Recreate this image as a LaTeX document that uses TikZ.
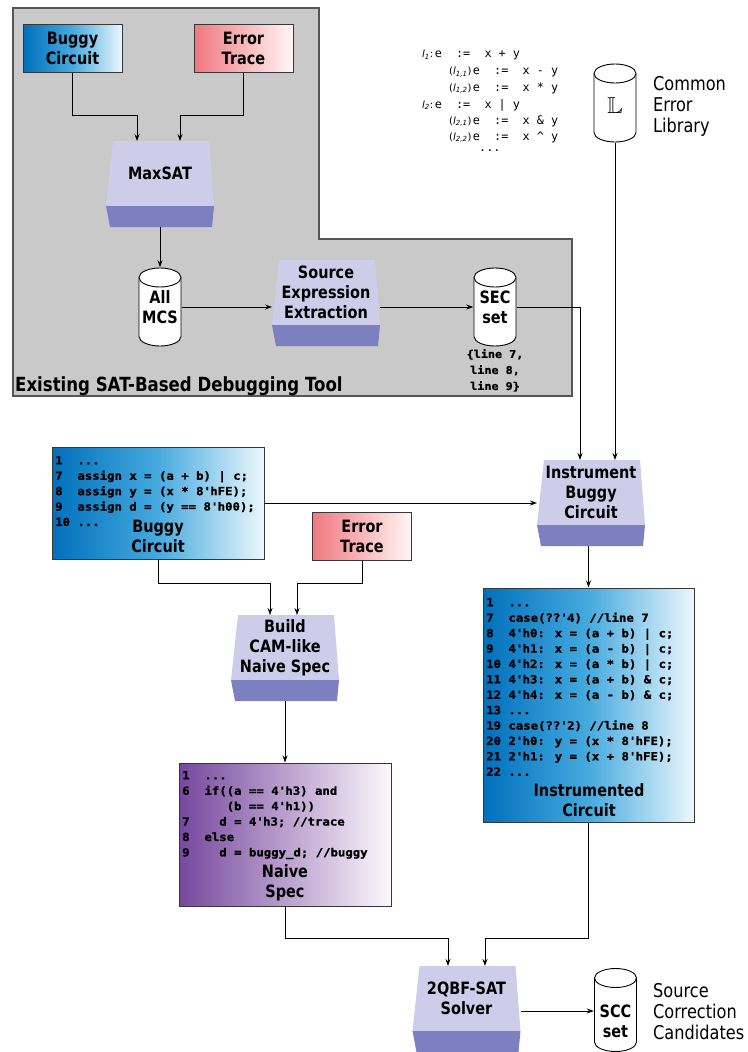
\documentclass[tikz,border=0pt]{standalone}
\usepackage{fontspec}
\usepackage{amssymb}
\setmainfont{DejaVu Sans}
\newfontfamily\lblfont[FakeStretch=0.85]{DejaVu Sans}
\newfontfamily\codefont[FakeStretch=1.10, BoldFeatures={FakeBold=1.2}]{DejaVu Sans Mono}
\newfontfamily\formfont{DejaVu Sans Mono}
\usetikzlibrary{arrows.meta}

\definecolor{toolgray}{RGB}{200,201,200}
\definecolor{toolline}{RGB}{85,85,85}
\definecolor{proctop}{RGB}{205,205,233}
\definecolor{procband}{RGB}{124,128,192}
\definecolor{boxline}{RGB}{55,55,55}
\definecolor{blueL}{RGB}{0,112,188}
\definecolor{blueM}{RGB}{70,170,222}
\definecolor{blueR}{RGB}{236,247,253}
\definecolor{redL}{RGB}{240,120,128}
\definecolor{redR}{RGB}{255,246,246}
\definecolor{purL}{RGB}{118,72,158}
\definecolor{purR}{RGB}{252,248,252}

\newcommand\sq{\textquotesingle}
\newcommand\lsub[1]{{\itshape l}\textsubscript{\itshape #1}}
% tag in front of a library rule
\newcommand\ruletag[1]{{\rmfamily\fontsize{10}{11}\selectfont #1}\kern1.5pt}

\tikzset{
  conn/.style={draw=black, line width=0.9pt},
  arr/.style={conn, -{Stealth[length=7pt,width=5pt]}},
  lbl/.style={font=\lblfont\bfseries\fontsize{17}{20}\selectfont, align=center, inner sep=0pt, text=black},
  plaintext/.style={font=\lblfont\fontsize{19}{21}\selectfont, align=left, inner sep=0pt},
  code/.style={font=\codefont\bfseries\fontsize{11.2}{15.4}\selectfont, align=left, inner sep=0pt, text=black},
  form/.style={font=\formfont\fontsize{11.8}{13}\selectfont, inner sep=0pt, anchor=west},
  gradbox/.style={lbl, draw=boxline, line width=1pt, minimum width=99pt, minimum height=48pt},
  codebox/.style={draw=boxline, line width=1pt, inner sep=0pt},
  bluegrad/.style={left color=blueL, right color=blueR, middle color=blueM},
  redgrad/.style={left color=redL, right color=redR},
  purgrad/.style={left color=purL, right color=purR},
  proc/.style={minimum width=108pt, minimum height=86pt, inner sep=0pt, outer sep=0pt,
    path picture={
      \fill[proctop] ([xshift=7pt]path picture bounding box.north west)
        -- ([xshift=-5pt]path picture bounding box.north east)
        -- ([yshift=21pt]path picture bounding box.south east)
        -- ([yshift=21pt]path picture bounding box.south west) -- cycle;
      \fill[procband] ([yshift=21pt]path picture bounding box.south west)
        -- ([yshift=21pt]path picture bounding box.south east)
        -- ([xshift=-2pt]path picture bounding box.south east)
        -- ([xshift=4pt]path picture bounding box.south west) -- cycle;
    }},
  cyl/.style={lbl, minimum width=43pt, minimum height=79pt, inner sep=0pt,
    path picture={
      \draw[line width=0.9pt, fill=white]
        ([shift={(0.5pt,-10pt)}]path picture bounding box.north west)
        -- ([shift={(0.5pt,10pt)}]path picture bounding box.south west)
        arc[start angle=180, end angle=360, x radius=21pt, y radius=9.5pt]
        -- ([shift={(-0.5pt,-10pt)}]path picture bounding box.north east)
        arc[start angle=0, end angle=180, x radius=21pt, y radius=9.5pt] -- cycle;
      \draw[line width=0.9pt]
        ([shift={(0.5pt,-10pt)}]path picture bounding box.north west)
        arc[start angle=180, end angle=360, x radius=21pt, y radius=9.5pt];
    }},
}

\begin{document}
\begin{tikzpicture}[x=1pt, y=-1pt]
\useasboundingbox (0,0) rectangle (747,1052);

% existing debugging tool region
\filldraw[fill=toolgray, draw=toolline, line width=1.2pt]
  (13,8) -- (319,8) -- (319,239) -- (572,239) -- (572,396) -- (13,396) -- cycle;
\node[lbl, font=\lblfont\bfseries\fontsize{19.5}{22}\selectfont, anchor=base west] (tool-t) at (15,391) {Existing SAT-Based Debugging Tool};

\node[gradbox, bluegrad] (bug1) at (72.5,48) {Buggy\\Circuit};
\node[gradbox, redgrad] (err1) at (243.5,48) {Error\\Trace};

\node[proc] (maxsat) at (160,184) {};
\node[lbl] (maxsat-t) at ([yshift=10.5pt]maxsat.center) {MaxSAT};

\node[cyl] (allmcs) at (160,307) {All\\MCS};
\node[proc] (src) at (326,303) {};
\node[lbl] (src-t) at ([yshift=10.5pt]src.center) {Source\\Expression\\Extraction};
\node[cyl] (sec) at (495,307) {SEC\\set};
\node[code, align=center, font=\codefont\bfseries\fontsize{10.7}{16}\selectfont, anchor=north] (sec-l) at (495,349) {\{line 7,\\line 8,\\line 9\}};

% error library
\node[form] (f1) at (422,55) {\ruletag{\lsub{1}:}e~~:=~~x + y};
\node[form] (f2) at (449,72) {\ruletag{(\lsub{1,1})}e~~:=~~x - y};
\node[form] (f3) at (449,88) {\ruletag{(\lsub{1,2})}e~~:=~~x * y};
\node[form] (f4) at (422,105) {\ruletag{\lsub{2}:}e~~:=~~x | y};
\node[form] (f5) at (449,121) {\ruletag{(\lsub{2,1})}e~~:=~~x \& y};
\node[form] (f6) at (449,137) {\ruletag{(\lsub{2,2})}e~~:=~~x \textasciicircum{} y};
\node[form] (f7) at (479,151) {...};

\node[cyl] (lib) at (615,103) {};
\node[inner sep=0pt, font=\fontsize{23}{23}\selectfont] (lib-t) at (615,106) {$\mathbb{L}$};
\node[plaintext, anchor=north west] (lib-d) at (653,76) {Common\\Error\\Library};

% instrumentation stage
\node[proc] (inst) at (591,503) {};
\node[lbl] (inst-t) at ([yshift=10.5pt]inst.center) {Instrument\\Buggy\\Circuit};

\node[codebox, bluegrad, minimum width=212pt, minimum height=112pt] (bugc) at (158,503) {};
\node[code, anchor=north west] (bugc-c) at (55,456) {1~~...\\7~~assign x = (a + b) | c;\\8~~assign y = (x * 8\sq{}hFE);\\9~~assign d = (y == 8\sq{}h00);\\10 ...};
\node[lbl] (bugc-t) at (158,536.5) {Buggy\\Circuit};

\node[gradbox, redgrad] (err2) at (362,536) {Error\\Trace};

\node[proc] (build) at (285,658) {};
\node[lbl] (build-t) at ([yshift=10.5pt]build.center) {Build\\CAM-like\\Naive Spec};

\node[codebox, purgrad, minimum width=212pt, minimum height=143pt] (naive) at (285,834.5) {};
\node[code, anchor=north west] (naive-c) at (182,771) {1~~...\\6~~if((a == 4\sq{}h3) and\\~~~~~~(b == 4\sq{}h1))\\7~~~~d = 4\sq{}h3; //trace\\8~~else\\9~~~~d = buggy\_d; //buggy};
\node[lbl] (naive-t) at (285,883) {Naive\\Spec};

\node[codebox, bluegrad, minimum width=211pt, minimum height=234pt] (instc) at (588.5,705) {};
\node[code, anchor=north west] (instc-c) at (486,598) {1~~...\\7~~case(??\sq{}4) //line 7\\8~~4\sq{}h0: x = (a + b) | c;\\9~~4\sq{}h1: x = (a - b) | c;\\10 4\sq{}h2: x = (a * b) | c;\\11 4\sq{}h3: x = (a + b) \& c;\\12 4\sq{}h4: x = (a - b) \& c;\\13 ...\\19 case(??\sq{}2) //line 8\\20 2\sq{}h0: y = (x * 8\sq{}hFE);\\21 2\sq{}h1: y = (x + 8\sq{}hFE);\\22 ...};
\node[lbl] (instc-t) at (589,800) {Instrumented\\Circuit};

% solver stage
\node[proc] (solver) at (466.5,1009) {};
\node[lbl] (solver-t) at ([yshift=10.5pt]solver.center) {2QBF-SAT\\Solver};
\node[cyl, minimum height=84pt] (scc) at (615.5,1010) {};
\node[lbl] (scc-t) at (615.5,1021) {SCC\\set};
\node[plaintext, anchor=north west] (scc-d) at (653,983) {Source\\Correction\\Candidates};

% connectors
\draw[arr] (bug1.south) -- ++(0,43) -| ([xshift=-23pt]maxsat.north);
\draw[arr] (err1.south) -- ++(0,43) -| ([xshift=20pt]maxsat.north);
\draw[arr] (maxsat.south) -- (allmcs.north);
\draw[arr] (allmcs.east) -- (allmcs.east -| src.west);
\draw[arr] (src.east |- allmcs.east) -- (allmcs.east -| sec.west);
\draw[arr] (sec.east) -| ([xshift=-11pt]inst.north);
\draw[arr] (lib.south) -- (lib.south |- inst.north);
\draw[arr] (bugc.east) -- (bugc.east -| inst.west);
\draw[arr] (bugc.south) -- ++(0,24) -| ([xshift=-15pt]build.north);
\draw[arr] (err2.south) -- ++(0,23) -| ([xshift=12pt]build.north);
\draw[arr] (build.south) -- (naive.north);
\draw[arr] (inst.south -| instc.north) -- (instc.north);
\draw[arr] (naive.south) -- ++(0,32) -| ([xshift=-18.5pt]solver.north);
\draw[arr] (instc.south) -- ++(0,116) -| ([xshift=18.5pt]solver.north);
\draw[arr] ([yshift=-2pt]solver.east) -- ([yshift=-2pt]solver.east -| scc.west);
\end{tikzpicture}
\end{document}
